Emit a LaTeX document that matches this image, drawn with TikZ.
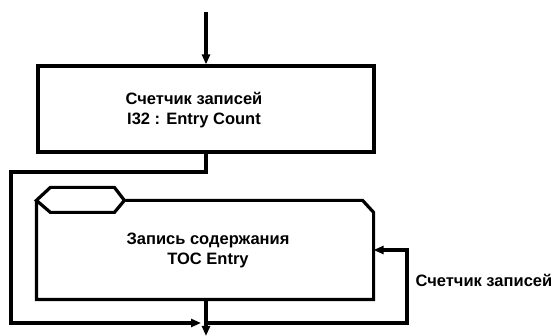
\documentclass[tikz,border=0pt]{standalone}
\usepackage{fontspec}
\setmainfont{Liberation Sans}
\usetikzlibrary{arrows.meta}
\begin{document}
\begin{tikzpicture}[x=1pt,y=-1pt,line width=3.2pt,
  lbl/.style={font=\fontsize{16.5}{20}\selectfont\bfseries, align=center, inner sep=0pt},
  flow/.style={-{Triangle[length=10pt,width=8pt]}},
  boxnode/.style={draw, inner sep=0pt},
  plain/.style={inner sep=0pt}]
\useasboundingbox (0,0) rectangle (555,336);
% top box
\node[boxnode, minimum width=336pt, minimum height=86pt] (count) at (206,109) {};
\node[lbl] (countlbl) at (194,110) {Счетчик записей\\I32 : Entry Count};
% lower box (outline drawn separately)
\node[plain, minimum width=334pt, minimum height=96pt] (toc) at (205,250) {};
\draw (toc.north west) -- (toc.south west) -- (toc.south east)
  -- ([yshift=-12pt]toc.north east) -- ([xshift=-11pt]toc.north east)
  -- ([xshift=89pt]toc.north west);
\draw (toc.north west) -- ++(14,-13) -- ++(64,0) -- ++(10,13) -- ++(-10,12) -- ++(-64,0) -- cycle;
\node[lbl] (toclbl) at (208,250) {Запись содержания\\TOC Entry};
% label
\node[lbl, anchor=west] (looplbl) at (414,280) {Счетчик записей};
% coordinates
\coordinate (in) at (206,12);
\coordinate (lc1) at (11,172);
\coordinate (junc) at (206,323);
\coordinate (out) at (206,336);
\coordinate (rc1) at (407,323);
\coordinate (rc2) at (407,250);
% connectors
\draw[flow] (in) -- (count.north);
\draw[flow, shorten >=5pt] (count.south) |- (lc1) |- (junc);
\draw[flow] (toc.south -| junc) -- (out);
\draw[flow] (junc) -- (rc1) -- (rc2) -- (toc.east);
\end{tikzpicture}
\end{document}
